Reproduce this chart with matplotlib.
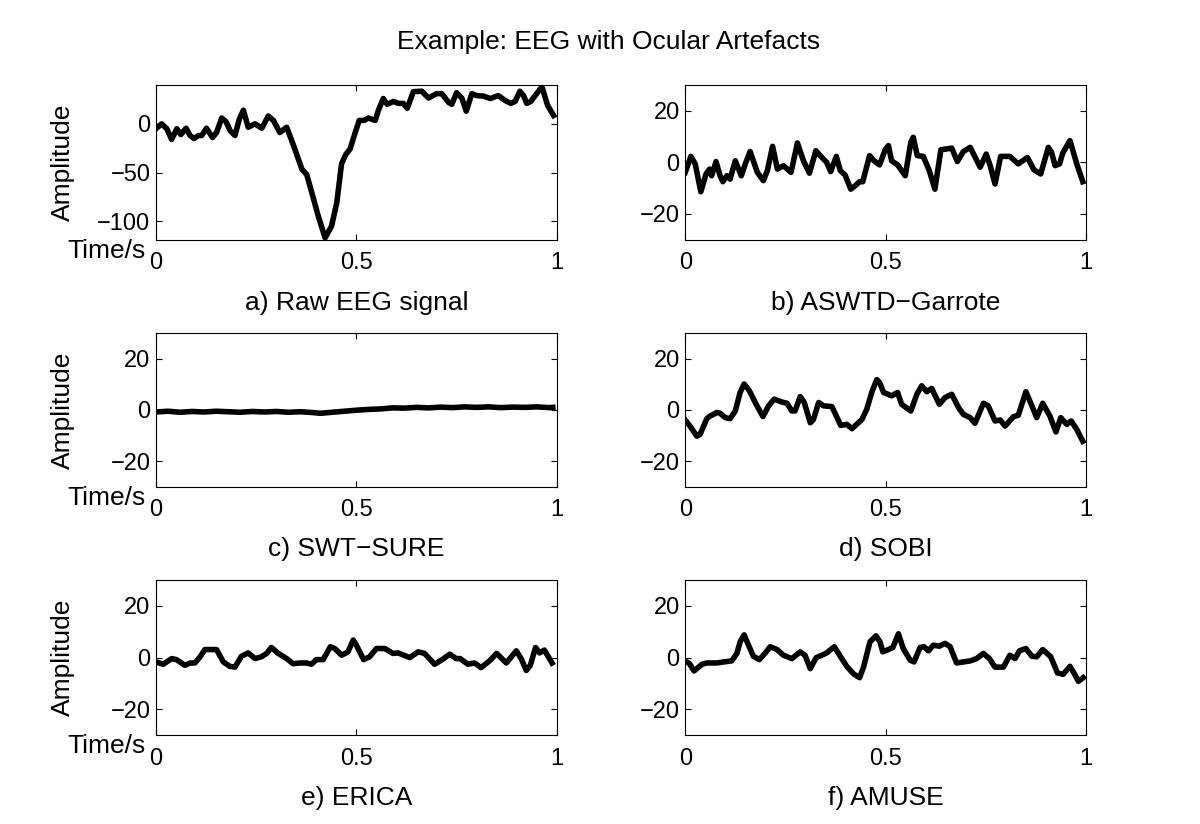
import matplotlib
matplotlib.use("Agg")
import matplotlib.pyplot as plt

plt.rcParams["font.family"] = ["Liberation Sans", "DejaVu Sans"]

# a) raw EEG with ocular artefact
t_raw = [0, 0.014, 0.027, 0.039, 0.052, 0.062, 0.075, 0.085, 0.095, 0.106, 0.114, 0.126,
         0.141, 0.151, 0.164, 0.175, 0.185, 0.197, 0.208, 0.218, 0.230, 0.247, 0.264, 0.280,
         0.293, 0.309, 0.326, 0.343, 0.364, 0.376, 0.389, 0.405, 0.422, 0.438, 0.451, 0.463,
         0.474, 0.484, 0.497, 0.507, 0.519, 0.530, 0.547, 0.555, 0.567, 0.577, 0.592, 0.605,
         0.617, 0.627, 0.642, 0.663, 0.680, 0.700, 0.713, 0.730, 0.738, 0.750, 0.763, 0.774,
         0.788, 0.800, 0.817, 0.834, 0.854, 0.871, 0.885, 0.896, 0.908, 0.917, 0.925, 0.935,
         0.946, 0.963, 0.977, 0.992]
raw = [-5, 0, -5, -16, -5, -11, -4.5, -12, -15, -12, -12, -4.5,
       -14, -9, 6, 2, -7, -12, 5, 14, -3.5, 0, -4.5, 8,
       3.5, -9, -3.5, -22, -46.5, -52, -71, -95, -117, -105, -81, -41,
       -31, -26, -9, 3.5, 3.5, 6, 3.5, 14, 26, 20, 23, 21,
       21, 16, 33, 33.5, 26.5, 31, 31, 22, 20, 32, 26.5, 13,
       31, 29, 28.5, 26, 29, 24, 21, 23, 33.5, 29, 21, 23,
       29, 38, 19, 8.6]

# b) ASWTD-Garrote
t_b = [0, 0.014, 0.025, 0.039, 0.052, 0.061, 0.066, 0.077, 0.087, 0.094, 0.104, 0.112,
       0.125, 0.140, 0.150, 0.162, 0.180, 0.195, 0.205, 0.218, 0.230, 0.245, 0.264, 0.280,
       0.295, 0.310, 0.326, 0.341, 0.353, 0.363, 0.377, 0.387, 0.399, 0.413, 0.424, 0.435,
       0.443, 0.460, 0.471, 0.485, 0.499, 0.507, 0.515, 0.530, 0.549, 0.563, 0.569, 0.579,
       0.594, 0.609, 0.623, 0.638, 0.653, 0.665, 0.679, 0.694, 0.711, 0.736, 0.751, 0.761,
       0.773, 0.787, 0.810, 0.831, 0.854, 0.870, 0.887, 0.906, 0.914, 0.923, 0.934, 0.942,
       0.960, 0.977, 0.992]
aswtd = [-3.9, 2.3, -0.6, -11.4, -4.5, -2.6, -5.2, 0.3, -5.2, -7.5, -5.2, -6.5,
         0.6, -5.2, -0.6, 4.2, -3.9, -7.1, -3.2, 6.2, -2.6, -1.3, -3.9, 7.5,
         0.6, -4.2, 4.5, 1.9, 0, -3.6, 2.3, -3.2, -4.9, -10.4, -9.1, -7.5,
         -7.5, 2.6, 0.6, -1.0, 4.9, 6.5, 0.6, -1.0, -5.2, 7.8, 9.7, 2.6,
         2.3, -3.2, -10.4, 4.9, 5.2, 5.5, 0.3, 4.2, 5.8, -1.9, 3.2, -1.3,
         -8.4, 2.3, 2.3, -0.6, 1.9, -2.9, -4.5, 5.8, 3.9, -1.3, -0.6, 3.6,
         8.4, -0.6, -7.5]

# c) SWT-SURE
t_c = [0, 0.03, 0.06, 0.09, 0.12, 0.15, 0.18, 0.21, 0.24, 0.27, 0.30, 0.33,
       0.36, 0.39, 0.41, 0.44, 0.47, 0.50, 0.53, 0.56, 0.59, 0.62, 0.65, 0.68,
       0.71, 0.74, 0.77, 0.80, 0.83, 0.86, 0.89, 0.92, 0.95, 0.98, 0.99]
swt = [-0.8, -0.5, -0.9, -0.6, -0.8, -0.5, -0.7, -0.9, -0.6, -0.8, -0.6, -0.9,
       -0.7, -1.0, -1.3, -0.9, -0.5, -0.1, 0.2, 0.4, 0.8, 0.7, 1.0, 0.8,
       1.1, 0.9, 1.2, 1.0, 1.2, 0.9, 1.1, 1.0, 1.2, 0.9, 1.0]

# d) SOBI
t_d = [0, 0.012, 0.029, 0.037, 0.054, 0.062, 0.079, 0.087, 0.100, 0.112, 0.125, 0.137,
       0.147, 0.160, 0.177, 0.194, 0.208, 0.222, 0.241, 0.254, 0.266, 0.274, 0.287, 0.297,
       0.312, 0.320, 0.333, 0.345, 0.366, 0.388, 0.403, 0.416, 0.441, 0.453, 0.466, 0.478,
       0.485, 0.495, 0.515, 0.530, 0.540, 0.563, 0.578, 0.590, 0.603, 0.615, 0.634, 0.648,
       0.665, 0.682, 0.694, 0.711, 0.723, 0.744, 0.756, 0.773, 0.786, 0.798, 0.819, 0.831,
       0.850, 0.865, 0.877, 0.892, 0.910, 0.925, 0.937, 0.952, 0.963, 0.977, 0.992]
sobi = [-3.9, -6.3, -10.2, -9.5, -3.4, -2.4, -1.0, -1.3, -3.0, -3.4, -0.4, 6.8,
        10.1, 7.5, 2.2, -2.6, 1.6, 4.2, 3.1, 2.6, -0.4, -0.4, 5.2, 2.9,
        -5.0, -3.7, 2.9, 1.6, 1.3, -6.0, -5.6, -7.3, -3.7, 0.3, 7.1, 11.8,
        10.7, 6.8, 5.5, 6.8, 2.2, -0.4, 6.1, 9.4, 7.1, 8.4, 2.2, 4.8,
        6.1, 0.9, -1.7, -3.0, -5.2, 2.6, 1.6, -4.3, -3.9, -6.3, -2.6, -2.1,
        7.1, 1.6, -3.0, 2.6, -2.4, -8.6, -3.0, -5.6, -4.3, -7.6, -12.2]

# e) ERICA
t_e = [0, 0.018, 0.039, 0.051, 0.072, 0.085, 0.097, 0.110, 0.122, 0.151, 0.168, 0.184,
       0.197, 0.213, 0.230, 0.247, 0.263, 0.276, 0.288, 0.305, 0.326, 0.342, 0.359, 0.375,
       0.388, 0.400, 0.417, 0.435, 0.446, 0.463, 0.479, 0.492, 0.500, 0.518, 0.533, 0.550,
       0.571, 0.591, 0.604, 0.633, 0.654, 0.670, 0.695, 0.712, 0.733, 0.749, 0.759, 0.778,
       0.795, 0.811, 0.832, 0.850, 0.874, 0.899, 0.911, 0.924, 0.934, 0.947, 0.957, 0.969,
       0.988]
erica = [-1.7, -2.6, -0.4, -0.8, -3.0, -2.1, -2.1, 0.3, 3.1, 3.1, -1.7, -3.4,
         -3.7, 0.5, 1.8, -0.4, 0.3, 1.6, 3.9, 1.6, -0.4, -2.4, -2.1, -2.1,
         -2.6, -0.8, -0.8, 4.2, 3.5, 0.9, 2.2, 6.8, 4.8, -0.8, 0.3, 3.5,
         3.5, 1.6, 1.8, 0, 2.2, 1.6, -2.6, -1.0, 1.3, -0.4, -0.4, -2.6,
         -2.1, -3.9, -1.3, 1.6, -2.1, 2.6, -0.4, -5.0, -3.0, 3.9, 1.8, 2.9,
         -2.1]

# f) AMUSE
t_f = [0, 0.011, 0.022, 0.042, 0.054, 0.079, 0.096, 0.116, 0.129, 0.137, 0.147, 0.158,
       0.170, 0.185, 0.200, 0.212, 0.229, 0.245, 0.266, 0.287, 0.299, 0.312, 0.327, 0.341,
       0.353, 0.372, 0.387, 0.403, 0.420, 0.435, 0.445, 0.461, 0.476, 0.486, 0.493, 0.507,
       0.518, 0.532, 0.544, 0.561, 0.571, 0.586, 0.596, 0.607, 0.619, 0.634, 0.648, 0.661,
       0.677, 0.694, 0.711, 0.727, 0.744, 0.759, 0.773, 0.794, 0.810, 0.823, 0.834, 0.850,
       0.865, 0.877, 0.892, 0.912, 0.929, 0.943, 0.960, 0.970, 0.981, 0.993]
amuse = [-1.3, -2.4, -5.2, -2.6, -2.1, -2.1, -1.7, -1.3, 1.6, 6.1, 8.8, 4.8,
         0.5, -0.8, 1.8, 4.2, 3.1, 0.9, -0.4, 2.2, 0.9, -4.3, 0, 0.9,
         1.8, 4.2, 0.5, -3.4, -6.3, -7.8, -3.7, 6.1, 8.4, 6.1, 2.2, 3.1,
         3.9, 9.2, 3.5, -1.0, -1.7, 3.9, 4.2, 2.6, 4.8, 4.4, 5.5, 4.2,
         -2.1, -1.7, -1.3, -0.4, 1.6, -0.4, -3.7, -3.7, 0.9, -0.4, 2.6, 3.5,
         0.5, 0.3, 3.1, 0.3, -6.0, -6.5, -3.4, -6.0, -9.2, -7.8]

panels = [
    (t_raw, raw, "a) Raw EEG signal", (-119, 40), [-100, -50, 0]),
    (t_b, aswtd, "b) ASWTD\u2212Garrote", (-30, 30), [-20, 0, 20]),
    (t_c, swt, "c) SWT\u2212SURE", (-30, 30), [-20, 0, 20]),
    (t_d, sobi, "d) SOBI", (-30, 30), [-20, 0, 20]),
    (t_e, erica, "e) ERICA", (-30, 30), [-20, 0, 20]),
    (t_f, amuse, "f) AMUSE", (-30, 30), [-20, 0, 20]),
]

fig = plt.figure(figsize=(12, 8.24), dpi=100)

lefts = [0.130, 0.571]
rows = [(0.709, 0.188), (0.409, 0.187), (0.108, 0.188)]

for i, (t, y, caption, ylim, yticks) in enumerate(panels):
    r, c = divmod(i, 2)
    ax = fig.add_axes([lefts[c], rows[r][0], 0.334, rows[r][1]])
    ax.plot(t, y, color="black", linewidth=4, solid_joinstyle="round")
    ax.set_xlim(0, 1)
    ax.set_ylim(*ylim)
    ax.set_xticks([0, 0.5, 1])
    ax.set_xticklabels(["0", "0.5", "1"])
    ax.set_yticks(yticks)
    ax.tick_params(direction="in", length=4, width=0.8, top=True, right=True,
                   labelsize=17)
    ax.tick_params(axis="x", pad=9)
    ax.tick_params(axis="y", pad=4)
    for s in ax.spines.values():
        s.set_linewidth(0.8)
    ax.text(0.5, -0.405, caption, transform=ax.transAxes, ha="center",
            va="center", fontsize=19)
    if c == 0:
        ax.set_ylabel("Amplitude", fontsize=19)
        ax.yaxis.set_label_coords(-0.202, 0.5)
        ax.text(-0.027, -0.072, "Time/s", transform=ax.transAxes, ha="right",
                va="center", fontsize=19)

fig.text(0.507, 0.949, "Example: EEG with Ocular Artefacts", ha="center",
         va="center", fontsize=19)

fig.savefig("out.png", dpi=100)
